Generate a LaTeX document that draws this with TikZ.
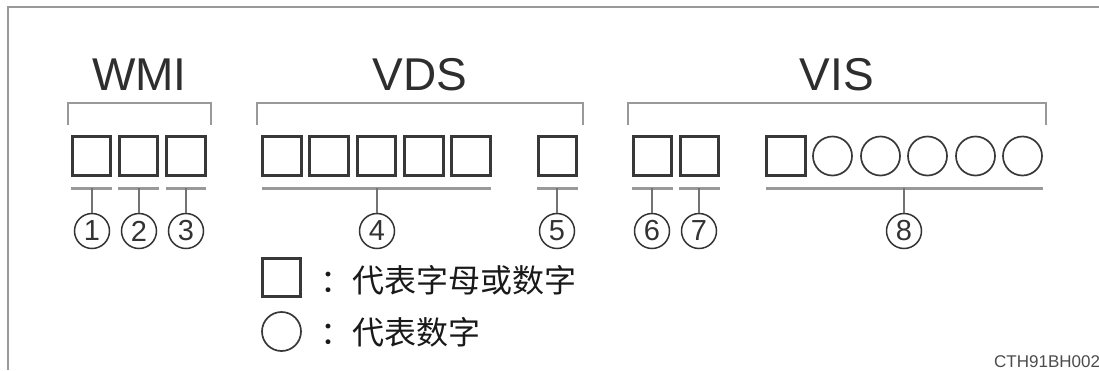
\documentclass[tikz,border=0pt]{standalone}
\usepackage{fontspec}
\setmainfont{Liberation Sans}
\newfontfamily\cjk{Noto Sans CJK SC}
\begin{document}
\begin{tikzpicture}[x=1pt,y=-1pt,
  frameline/.style={draw=black!40,line width=1.5pt},
  bracketline/.style={draw=black!40,line width=2.2pt},
  underline/.style={draw=black!40,line width=3pt},
  stemline/.style={draw=black!55,line width=1.5pt},
  charbox/.style={draw=black!78,line width=2.7pt,rectangle,minimum width=38.5pt,minimum height=38.5pt,inner sep=0pt},
  digitcircle/.style={draw=black!78,line width=1.7pt,circle,minimum size=39pt,inner sep=0pt},
  numcircle/.style={draw=black!80,line width=1.5pt,circle,minimum size=35pt,inner sep=0pt,font=\fontsize{29}{29}\selectfont,text=black!80},
  grouplabel/.style={font=\fontsize{46}{46}\selectfont,text=black!82,anchor=base},
  legendtext/.style={font=\cjk\fontsize{32}{32}\selectfont,text=black!90,anchor=west,inner sep=0pt}]
\useasboundingbox (0,0) rectangle (1099,370);
% frame
\draw[frameline] (8,370) -- (8,7) -- (1099,7);
% group labels
\node[grouplabel] (lwmi) at (139.5,90) {WMI};
\node[grouplabel] (lvds) at (420,90) {VDS};
\node[grouplabel] (lvis) at (837,90) {VIS};
% brackets
\draw[bracketline] (68,125) -- (68,103) -- (211,103) -- (211,125);
\draw[bracketline] (257,125) -- (257,103) -- (583,103) -- (583,125);
\draw[bracketline] (628,125) -- (628,103) -- (1046,103) -- (1046,125);
% boxes
\foreach \n/\x in {1/91.5,2/138.5,3/186,4/282,5/329,6/376.5,7/424,8/471,9/557.5,10/652.5,11/699.5,12/786}
  \node[charbox] (b\n) at (\x,156) {};
\foreach \n/\x in {1/832.5,2/880.5,3/927.5,4/975.5,5/1022.5}
  \node[digitcircle] (d\n) at (\x,156) {};
% underlines
\draw[underline] (71,188) -- (112,188);
\draw[underline] (118,188) -- (159,188);
\draw[underline] (166,188) -- (206,188);
\draw[underline] (262,188) -- (491,188);
\draw[underline] (537,188) -- (578,188);
\draw[underline] (632,188) -- (673,188);
\draw[underline] (679,188) -- (720,188);
\draw[underline] (766,188) -- (1043,188);
% numbered circles
\foreach \n/\x in {1/92,2/139,3/186,4/377,5/557,6/652,7/699,8/904}{
  \node[numcircle] (c\n) at (\x,231) {\n};
  \coordinate (u\n) at (\x,188);
  \draw[stemline] (u\n) -- (c\n.north);
}
% legend
\node[charbox] (lsq) at (281.5,277.5) {};
\node[digitcircle] (lci) at (281.5,331.5) {};
\node[legendtext] (t1) at (320,280) {：代表字母或数字};
\node[legendtext] (t2) at (320,332) {：代表数字};
% code
\node[anchor=west,inner sep=0pt,font=\fontsize{17}{17}\selectfont,text=black!70] (code) at (994,362) {CTH91BH002};
\end{tikzpicture}
\end{document}
